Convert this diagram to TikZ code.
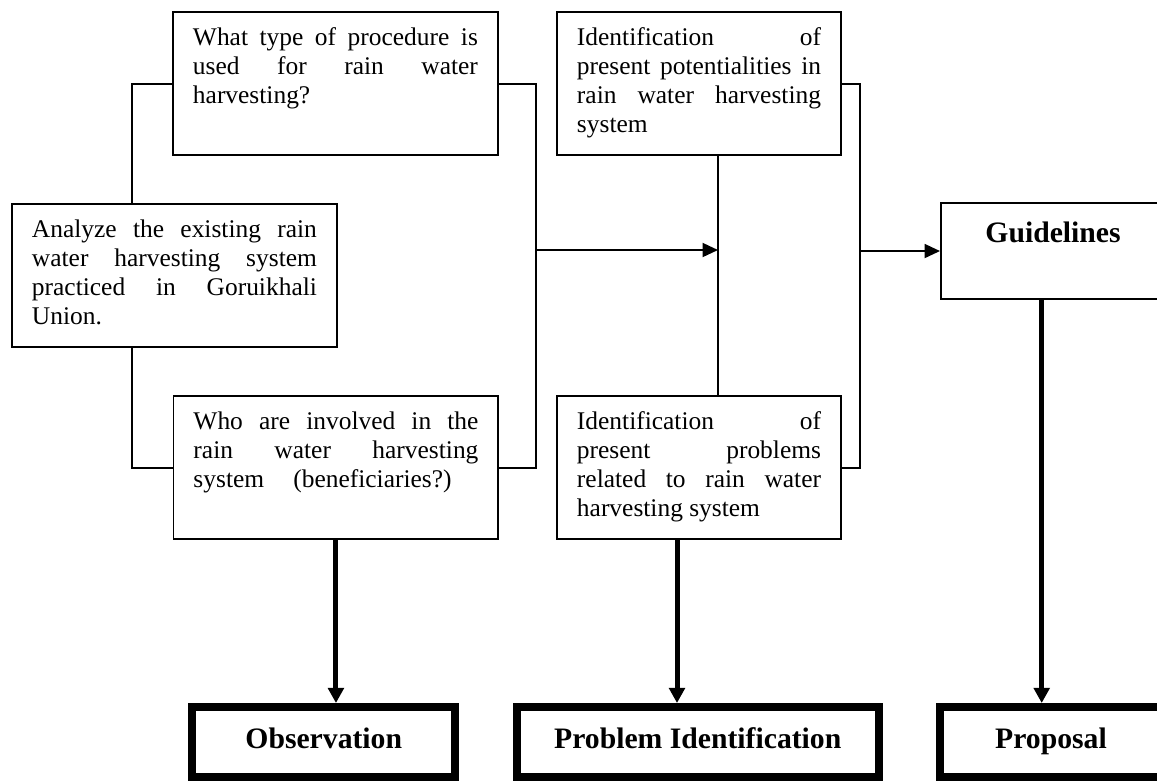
\documentclass[tikz,border=0pt]{standalone}
\usepackage{fontspec}
\setmainfont{Liberation Serif}
\usetikzlibrary{arrows.meta}

\begin{document}
\begin{tikzpicture}[x=0.4717pt, y=-0.4717pt, font=\fontsize{12}{13.6}\selectfont, >={Triangle[length=7.3pt,width=6.6pt]},
	box/.style={draw, line width=0.94pt, fill=white, anchor=north west, align=justify, inner xsep=9.43pt, inner ysep=6pt, text height=10pt, text depth=45.5pt},
	wide/.style={box, text width=134.4pt},
	narrow/.style={box, text width=115.1pt},
	endbox/.style={draw, line width=3.77pt, anchor=north west, minimum height=33pt, text height=10pt, text depth=4pt, font=\fontsize{14}{16}\selectfont\bfseries},
	link/.style={line width=0.94pt},
	bigarrow/.style={line width=2.36pt, -{Triangle[length=7.1pt,width=7.3pt]}}]
	% Khung hình
	\useasboundingbox (0,0) rectangle (1157,781);
	\clip (0,0) rectangle (1157,781);
	% Các cột của đường nối
	\coordinate (lb) at (132,0);
	\coordinate (rb) at (536,0);
	\coordinate (mid) at (718,0);
	\coordinate (rb2) at (859.5,0);
	\coordinate (down2) at (677,0);
	\coordinate (down3) at (1041.7,0);
	\coordinate (row) at (0,250);
	% Các hộp câu hỏi
	\node[wide] (ana) at (11,203) {Analyze the existing rain\linebreak water harvesting system\linebreak practiced in Goruikhali\linebreak Union.};
	\node[wide] (q1) at (172,11) {What type of procedure is\linebreak used for rain water\linebreak harvesting?};
	\node[wide] (who) at (172.5,395) {Who are involved in the\linebreak rain water harvesting\linebreak system\hspace{0.9em} (beneficiaries?)};
	\node[narrow] (id1) at (556,11) {Identification of\linebreak present potentialities in\linebreak rain water harvesting\linebreak system};
	\node[narrow] (id2) at (556,395) {Identification of\linebreak present problems\linebreak related to rain water\linebreak harvesting system};
	\node[draw, line width=0.94pt, anchor=north west, minimum width=105.7pt, inner ysep=6pt, text height=12.4pt, text depth=20.9pt, font=\fontsize{14}{16}\selectfont\bfseries] (guide) at (940,202) {Guidelines};
	% Các hộp kết quả
	\node[endbox, minimum width=124pt] (obs) at (188.3,703) {Observation};
	\node[endbox, minimum width=171pt] (prob) at (512.5,703) {Problem Identification};
	\node[endbox, minimum width=104.7pt] (prop) at (936,703) {Proposal};
	% Đường nối
	\draw[link] (q1.west) -| (ana.north -| lb);
	\draw[link] (ana.south -| lb) |- (who.west);
	\draw[link] (q1.east) -| (rb |- who.east) -- (who.east);
	\draw[link] (id1.south -| mid) -- (id2.north -| mid);
	\draw[link, ->] (rb |- row) -- (mid |- row);
	\draw[link] (id1.east) -| (rb2 |- id2.east) -- (id2.east);
	\draw[link, ->] (guide.west -| rb2) -- (guide.west);
	%
	\draw[bigarrow] (who.south) -- (who.south |- obs.north);
	\draw[bigarrow] (id2.south -| down2) -- (down2 |- prob.north);
	\draw[bigarrow] (guide.south -| down3) -- (down3 |- prop.north);
\end{tikzpicture}
\end{document}
